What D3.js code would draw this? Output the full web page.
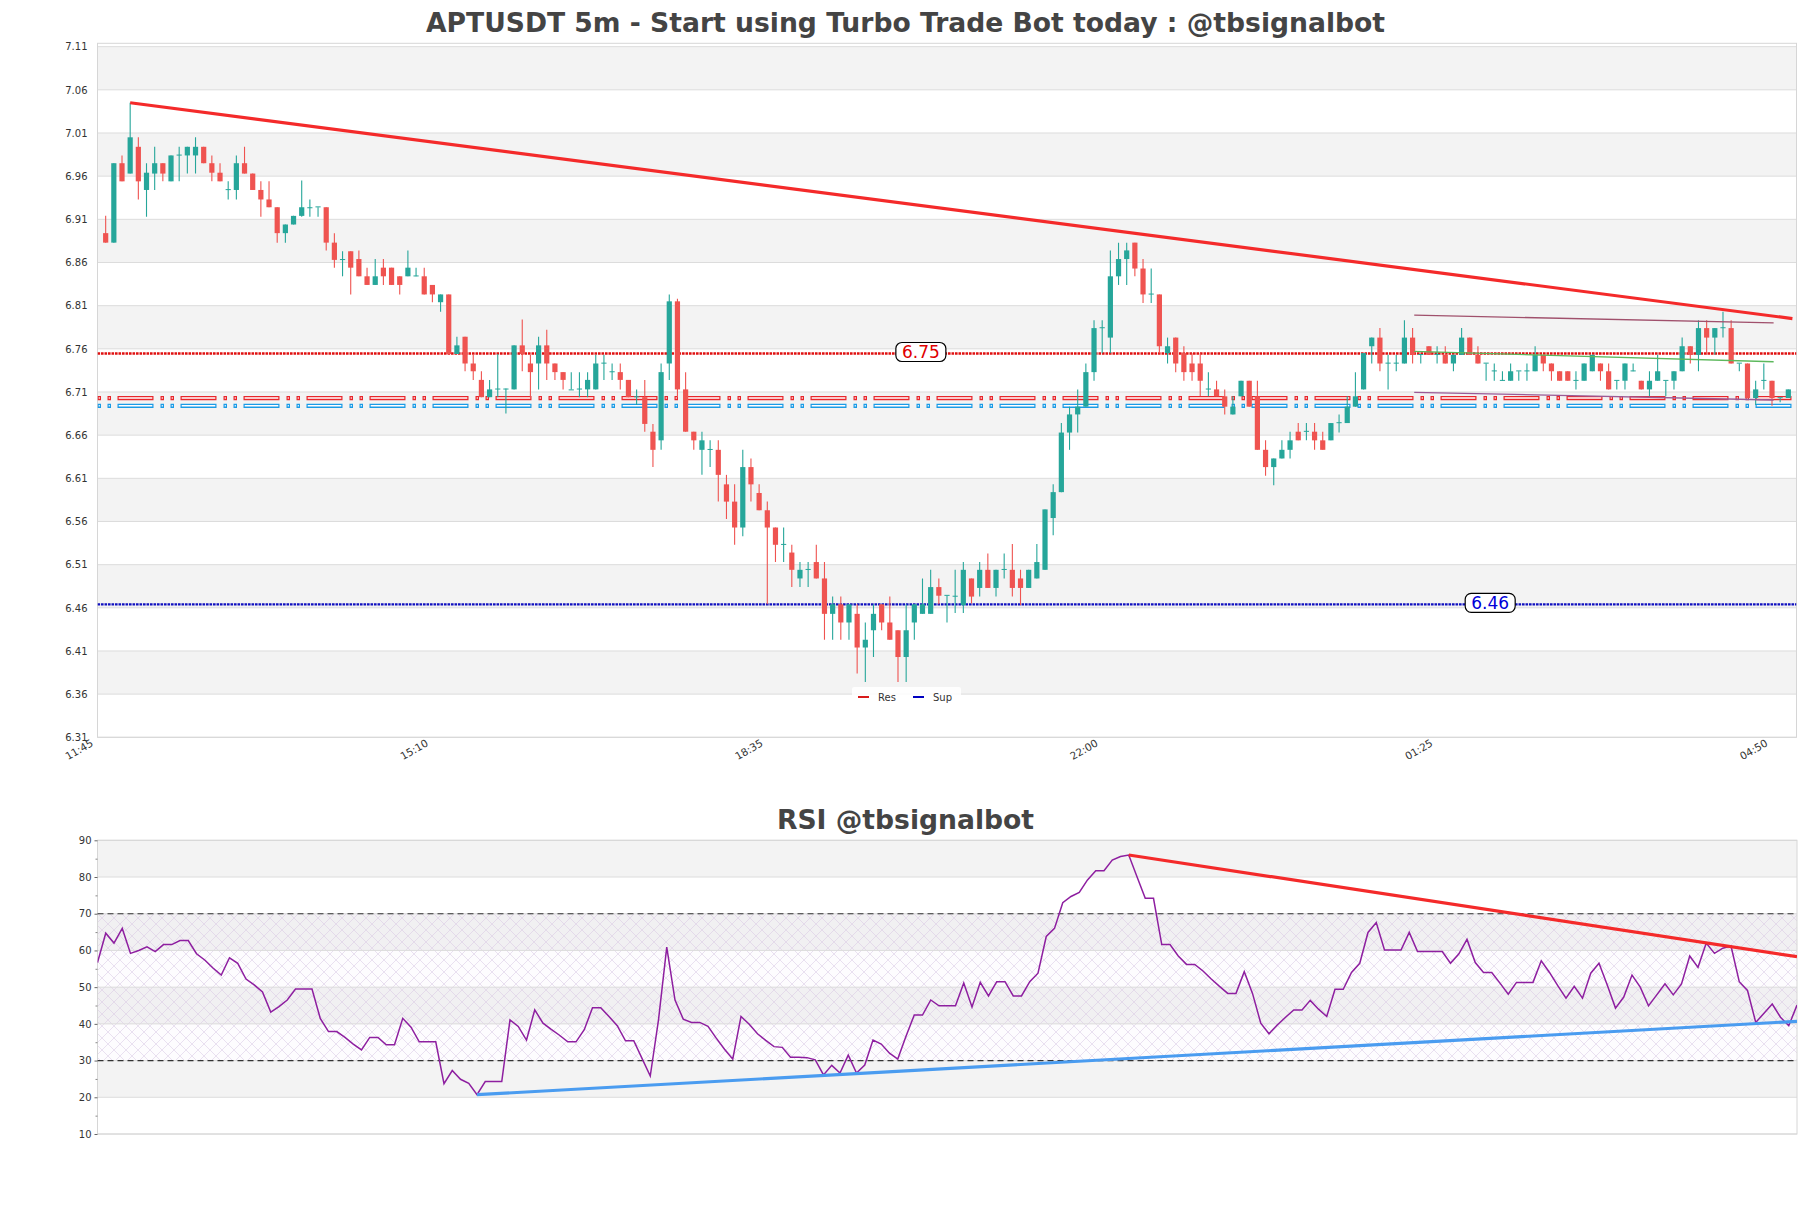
<!DOCTYPE html>
<html>
<head>
<meta charset="utf-8">
<script src="https://d3js.org/d3.v7.min.js"></script>
<style>
    body { margin: 0; background: #fff; }
    svg { display: block; font-family: 'DejaVu Sans', sans-serif; }
</style>
</head>
<body>
<svg class="chart"></svg>
<script>

// 5m candles, index 0 = 11:50
const opens = [6.894,6.883,6.975,6.963,6.994,6.944,6.963,6.975,6.954,6.984,6.984,6.984,6.994,6.975,6.964,6.944,6.944,6.975,6.963,6.944,
    6.933,6.924,6.894,6.904,6.914,6.924,6.924,6.924,6.883,6.863,6.873,6.864,6.844,6.834,6.854,6.854,6.844,6.844,6.844,6.844,
    6.834,6.814,6.823,6.754,6.774,6.743,6.724,6.704,6.713,6.713,6.713,6.764,6.743,6.743,6.764,6.743,6.733,6.713,6.713,6.713,
    6.713,6.743,6.733,6.733,6.724,6.704,6.704,6.664,6.654,6.743,6.815,6.713,6.664,6.643,6.643,6.643,6.603,6.583,6.553,6.623,
    6.593,6.573,6.553,6.533,6.524,6.494,6.504,6.513,6.494,6.453,6.464,6.443,6.453,6.414,6.434,6.464,6.443,6.434,6.403,6.443,
    6.453,6.453,6.484,6.474,6.473,6.463,6.494,6.483,6.504,6.483,6.504,6.504,6.494,6.483,6.494,6.504,6.564,6.594,6.663,6.684,
    6.693,6.733,6.784,6.773,6.844,6.864,6.883,6.853,6.823,6.823,6.755,6.773,6.755,6.743,6.743,6.713,6.713,6.705,6.684,6.705,
    6.723,6.705,6.643,6.623,6.633,6.643,6.664,6.664,6.664,6.654,6.654,6.674,6.674,6.693,6.713,6.763,6.773,6.743,6.743,6.743,
    6.773,6.753,6.763,6.753,6.753,6.743,6.753,6.773,6.753,6.743,6.734,6.723,6.723,6.734,6.734,6.734,6.753,6.743,6.734,6.734,
    6.723,6.723,6.734,6.743,6.734,6.723,6.723,6.734,6.723,6.713,6.723,6.723,6.723,6.734,6.763,6.753,6.784,6.773,6.784,6.784,
    6.743,6.743,6.703,6.723,6.723,6.703,6.703]
const highs = [6.914,6.975,6.984,7.045,7.005,6.975,6.994,6.975,6.984,6.994,6.994,7.005,6.994,6.984,6.975,6.954,6.984,6.994,6.963,6.954,
    6.954,6.924,6.904,6.914,6.955,6.933,6.924,6.924,6.894,6.873,6.873,6.874,6.854,6.864,6.864,6.854,6.844,6.874,6.854,6.854,
    6.834,6.823,6.823,6.774,6.774,6.754,6.734,6.724,6.754,6.714,6.764,6.794,6.753,6.774,6.782,6.743,6.733,6.733,6.733,6.733,
    6.753,6.753,6.743,6.743,6.724,6.713,6.724,6.673,6.743,6.823,6.818,6.733,6.664,6.664,6.654,6.654,6.614,6.603,6.643,6.633,
    6.603,6.583,6.553,6.553,6.533,6.513,6.513,6.533,6.513,6.473,6.473,6.464,6.464,6.443,6.464,6.464,6.473,6.434,6.464,6.464,
    6.494,6.504,6.494,6.474,6.504,6.513,6.494,6.513,6.523,6.504,6.523,6.534,6.504,6.504,6.534,6.574,6.603,6.674,6.693,6.713,
    6.743,6.793,6.793,6.874,6.883,6.883,6.883,6.864,6.853,6.823,6.773,6.773,6.763,6.755,6.755,6.733,6.723,6.713,6.705,6.723,
    6.723,6.723,6.654,6.633,6.654,6.664,6.674,6.674,6.674,6.664,6.674,6.684,6.705,6.733,6.755,6.773,6.784,6.753,6.753,6.793,
    6.784,6.753,6.763,6.763,6.763,6.753,6.784,6.773,6.763,6.743,6.743,6.734,6.743,6.734,6.743,6.763,6.753,6.743,6.734,6.734,
    6.734,6.743,6.753,6.743,6.743,6.723,6.743,6.743,6.723,6.734,6.753,6.723,6.734,6.773,6.763,6.793,6.793,6.784,6.803,6.793,
    6.743,6.743,6.723,6.743,6.723,6.703,6.713]
const lows = [6.883,6.883,6.954,6.963,6.933,6.913,6.944,6.954,6.954,6.954,6.963,6.963,6.975,6.954,6.954,6.933,6.933,6.963,6.944,6.913,
    6.924,6.883,6.883,6.904,6.913,6.913,6.913,6.874,6.854,6.844,6.823,6.844,6.834,6.834,6.834,6.834,6.823,6.844,6.844,6.823,
    6.814,6.803,6.754,6.754,6.734,6.724,6.704,6.704,6.704,6.685,6.713,6.734,6.704,6.713,6.724,6.724,6.713,6.713,6.704,6.704,
    6.713,6.724,6.724,6.713,6.704,6.695,6.664,6.623,6.643,6.724,6.704,6.664,6.643,6.614,6.623,6.583,6.563,6.533,6.543,6.583,
    6.573,6.464,6.513,6.513,6.484,6.484,6.484,6.494,6.423,6.423,6.423,6.423,6.384,6.374,6.403,6.434,6.423,6.374,6.374,6.423,
    6.453,6.453,6.464,6.443,6.454,6.454,6.465,6.473,6.483,6.473,6.494,6.473,6.463,6.483,6.494,6.504,6.544,6.594,6.643,6.663,
    6.693,6.723,6.755,6.755,6.834,6.834,6.844,6.813,6.813,6.755,6.743,6.733,6.723,6.723,6.705,6.705,6.705,6.684,6.684,6.705,
    6.693,6.643,6.613,6.602,6.633,6.633,6.654,6.654,6.643,6.643,6.654,6.663,6.674,6.693,6.713,6.743,6.734,6.713,6.734,6.743,
    6.743,6.743,6.753,6.743,6.743,6.734,6.753,6.753,6.743,6.723,6.723,6.723,6.723,6.723,6.723,6.734,6.734,6.723,6.723,6.723,
    6.713,6.723,6.734,6.723,6.713,6.713,6.713,6.734,6.713,6.705,6.723,6.705,6.713,6.734,6.743,6.734,6.753,6.753,6.773,6.743,
    6.734,6.703,6.695,6.713,6.694,6.698,6.703]
const closes = [6.883,6.975,6.954,7.005,6.954,6.964,6.975,6.963,6.984,6.985,6.994,6.994,6.975,6.964,6.954,6.945,6.975,6.963,6.944,6.933,
    6.924,6.894,6.904,6.914,6.924,6.924,6.925,6.883,6.863,6.864,6.854,6.844,6.834,6.844,6.844,6.834,6.834,6.854,6.845,6.823,
    6.823,6.823,6.754,6.764,6.743,6.734,6.704,6.713,6.714,6.714,6.764,6.754,6.733,6.764,6.743,6.733,6.724,6.713,6.714,6.724,
    6.743,6.744,6.734,6.724,6.704,6.705,6.673,6.643,6.733,6.815,6.713,6.664,6.654,6.654,6.644,6.614,6.583,6.553,6.623,6.603,
    6.573,6.553,6.533,6.534,6.504,6.504,6.505,6.494,6.453,6.464,6.443,6.464,6.414,6.423,6.453,6.443,6.423,6.403,6.434,6.464,
    6.464,6.484,6.474,6.475,6.474,6.504,6.473,6.504,6.483,6.504,6.505,6.483,6.483,6.504,6.513,6.574,6.594,6.663,6.684,6.693,
    6.733,6.784,6.785,6.844,6.864,6.874,6.853,6.823,6.824,6.763,6.763,6.743,6.733,6.733,6.723,6.714,6.705,6.693,6.693,6.723,
    6.693,6.643,6.623,6.633,6.643,6.654,6.654,6.665,6.654,6.643,6.674,6.675,6.693,6.705,6.755,6.773,6.743,6.744,6.744,6.773,
    6.753,6.754,6.753,6.754,6.743,6.753,6.773,6.753,6.743,6.744,6.735,6.724,6.734,6.735,6.735,6.753,6.743,6.734,6.723,6.723,
    6.724,6.743,6.753,6.734,6.713,6.724,6.743,6.735,6.713,6.723,6.734,6.724,6.734,6.763,6.753,6.784,6.773,6.784,6.785,6.743,
    6.744,6.703,6.713,6.724,6.703,6.704,6.713]

const rsi = [56.7,64.7,62.0,66.0,59.2,60.0,61.0,59.7,61.6,61.6,62.7,62.7,59.1,57.4,55.2,53.3,58.0,56.5,52.2,50.6,
    48.7,43.2,44.7,46.5,49.5,49.5,49.5,41.5,37.9,37.9,36.3,34.5,32.9,36.3,36.3,34.3,34.3,41.5,39.1,35.1,
    35.1,35.1,23.7,27.3,24.9,23.8,20.7,24.3,24.3,24.3,41.1,39.3,35.6,43.8,40.2,38.5,36.9,35.1,35.1,38.4,
    44.4,44.4,42.0,39.5,35.4,35.4,30.6,25.8,41.1,60.9,46.5,41.3,40.4,40.4,39.3,36.1,33.1,30.4,42.0,39.9,
    37.3,35.5,33.8,33.6,30.9,30.9,30.8,30.2,26.1,28.7,26.6,31.5,26.6,28.8,35.6,34.5,32.0,30.4,36.6,
    42.4,42.4,46.5,44.9,44.9,44.9,51.1,44.6,51.3,47.6,51.5,51.5,47.6,47.6,51.5,53.8,63.8,66.0,73.0,74.7,
    75.8,79.2,81.7,81.7,84.6,85.6,86.0,80.1,74.2,74.2,61.6,61.6,58.5,56.2,56.2,54.4,52.2,50.2,48.3,48.3,
    54.2,48.3,40.2,37.3,39.7,41.8,43.8,43.8,46.4,44.0,42.0,49.4,49.4,54.0,56.5,64.9,67.6,60.1,60.1,60.1,
    64.9,59.7,59.7,59.7,59.7,56.5,59.0,63.0,56.7,54.0,54.0,51.1,48.1,51.3,51.3,51.3,57.2,54.0,50.4,47.0,
    50.2,47.0,53.8,56.5,50.6,44.3,47.3,53.3,50.0,44.9,47.9,50.9,47.9,50.9,58.5,55.4,62.0,59.2,60.6,61.2,
    51.5,49.1,40.4,42.9,45.4,41.8,39.5,45.1]

const xTickIdx = [-1, 40, 81, 122, 163, 204]
const xTickLabels = ['11:45', '15:10', '18:35', '22:00', '01:25', '04:50']
const priceTicks = [6.31, 6.36, 6.41, 6.46, 6.51, 6.56, 6.61, 6.66, 6.71, 6.76, 6.81, 6.86, 6.91, 6.96, 7.01, 7.06, 7.11]
const rsiTicks = [10, 20, 30, 40, 50, 60, 70, 80, 90]

const resLevel = 6.7546
const supLevel = 6.464
const levelLabelIdx = [99.8, 169.5]
const zoneLevels = [6.703, 6.694]
const resTrend = [[3, 7.045], [206.5, 6.795]]
const channelTop = [[160.2, 6.799], [204.2, 6.790]]
const channelMid = [[160.2, 6.757], [204.2, 6.745]]
const channelLow = [[160.2, 6.7096], [204.2, 6.7007]]
const rsiResEnd = 58.3
const rsiSupEnd = 40.7
const legendItems = ['Res', 'Sup']

const width = 1811
const height = 1208

const svg = d3.select('.chart')
    .attr('width', width)
    .attr('height', height)

const m = { left: 97.5, right: 1796.5, top: 43.3, bottom: 737.3 }
const r = { left: 97.5, right: 1797, top: 840.3, bottom: 1134 }

const x = d3.scaleLinear().domain([-1, 207]).range([m.left, m.right])
const y = d3.scaleLinear().domain([6.31, 7.1139]).range([m.bottom, m.top])
const rx = d3.scaleLinear().domain([0, rsi.length - 1]).range([r.left, r.right])
const ry = d3.scaleLinear().domain([10, 90]).range([r.bottom, r.top])

const defs = svg.append('defs')
defs.append('clipPath').attr('id', 'clipMain')
    .append('rect')
    .attr('x', m.left).attr('y', m.top)
    .attr('width', m.right - m.left).attr('height', m.bottom - m.top)
defs.append('clipPath').attr('id', 'clipRsi')
    .append('rect')
    .attr('x', r.left).attr('y', r.top)
    .attr('width', r.right - r.left).attr('height', r.bottom - r.top)

const hatch = defs.append('pattern')
    .attr('id', 'hatch')
    .attr('patternUnits', 'userSpaceOnUse')
    .attr('width', 12).attr('height', 12)
hatch.append('path')
    .attr('d', 'M0,0 L12,12 M0,12 L12,0')
    .attr('stroke', '#d9c8e4')
    .attr('stroke-width', 0.55)
    .attr('fill', 'none')

// ---------- main panel ----------

svg.append('text')
    .attr('x', width / 2)
    .attr('y', 32)
    .attr('text-anchor', 'middle')
    .attr('font-size', 26.6)
    .attr('font-weight', 'bold')
    .attr('fill', '#444')
    .text('APTUSDT 5m - Start using Turbo Trade Bot today : @tbsignalbot')

const bands = d3.pairs(priceTicks.slice().reverse())

svg.append('g')
    .selectAll('rect')
    .data(bands)
    .enter()
    .append('rect')
    .attr('x', m.left)
    .attr('width', m.right - m.left)
    .attr('y', d => y(d[0]))
    .attr('height', d => y(d[1]) - y(d[0]))
    .attr('fill', (d, i) => i % 2 === 0 ? '#f3f3f3' : '#fff')

svg.append('g')
    .selectAll('line')
    .data(priceTicks)
    .enter()
    .append('line')
    .attr('x1', m.left).attr('x2', m.right)
    .attr('y1', d => y(d)).attr('y2', d => y(d))
    .attr('stroke', '#dcdcdc')
    .attr('stroke-width', 1)

svg.append('rect')
    .attr('x', m.left).attr('y', m.top)
    .attr('width', m.right - m.left).attr('height', m.bottom - m.top)
    .attr('fill', 'none')
    .attr('stroke', '#d6d6d6')

const yAxis = svg.append('g')
    .attr('transform', `translate(${m.left},0)`)
    .call(d3.axisLeft(y).tickValues(priceTicks).tickFormat(d3.format('.2f')).tickSize(0).tickPadding(10))
yAxis.select('.domain').remove()
yAxis.selectAll('text').attr('font-size', 10).attr('fill', '#333').attr('font-family', 'DejaVu Sans')

const xAxis = svg.append('g')
    .attr('transform', `translate(0,${m.bottom})`)
    .call(d3.axisBottom(x).tickValues(xTickIdx).tickFormat((d, i) => xTickLabels[i]).tickSize(0))
xAxis.select('.domain').remove()
xAxis.selectAll('text')
    .attr('font-size', 10.4)
    .attr('fill', '#333')
    .attr('font-family', 'DejaVu Sans')
    .attr('text-anchor', 'end')
    .attr('dy', 0)
    .attr('y', 0)
    .attr('transform', 'translate(-4,8) rotate(-30)')

const plot = svg.append('g').attr('clip-path', 'url(#clipMain)')

// dashed zone lines (outlined dashes)
const zoneColors = ['#e8262b', '#1a9be6']
zoneLevels.forEach((lv, k) => {
    plot.append('line')
        .attr('x1', m.left).attr('x2', m.right)
        .attr('y1', y(lv)).attr('y2', y(lv))
        .attr('stroke', zoneColors[k])
        .attr('stroke-width', 4.2)
        .attr('stroke-dasharray', '3.5,6.5,3.5,6.5,36,7')
    plot.append('line')
        .attr('x1', m.left).attr('x2', m.right)
        .attr('y1', y(lv)).attr('y2', y(lv))
        .attr('stroke', '#fff')
        .attr('stroke-width', 1.4)
        .attr('stroke-dasharray', '1.1,8.9,1.1,8.9,33.6,9.4')
        .attr('stroke-dashoffset', -1.2)
})

const levelColors = ['#e01010', '#1010c0']
;[resLevel, supLevel].forEach((lv, k) => {
    plot.append('line')
        .attr('x1', m.left).attr('x2', m.right)
        .attr('y1', y(lv)).attr('y2', y(lv))
        .attr('stroke', levelColors[k])
        .attr('stroke-width', 2.4)
        .attr('stroke-dasharray', '2.6,0.9')
})

const wick = plot.append('g')
    .selectAll('line')
    .data(opens)
    .enter()
    .append('line')
    .attr('x1', (d, i) => x(i)).attr('x2', (d, i) => x(i))
    .attr('y1', (d, i) => y(highs[i]))
    .attr('y2', (d, i) => y(lows[i]))
    .attr('stroke', (d, i) => closes[i] >= d ? '#26a69a' : '#ef5350')
    .attr('stroke-width', 1.1)

const bw = 5.2
const body = plot.append('g')
    .selectAll('rect')
    .data(opens)
    .enter()
    .append('rect')
    .attr('x', (d, i) => x(i) - bw / 2)
    .attr('width', bw)
    .attr('y', (d, i) => y(Math.max(d, closes[i])))
    .attr('height', (d, i) => Math.max(1, Math.abs(y(d) - y(closes[i]))))
    .attr('fill', (d, i) => closes[i] >= d ? '#26a69a' : '#ef5350')

const line = d3.line().x(d => x(d[0])).y(d => y(d[1]))

plot.append('path')
    .attr('d', line(channelTop))
    .attr('stroke', '#a0506c').attr('stroke-width', 1.3).attr('fill', 'none')
plot.append('path')
    .attr('d', line(channelMid))
    .attr('stroke', '#5cb85c').attr('stroke-width', 1.3).attr('fill', 'none')
plot.append('path')
    .attr('d', line(channelLow))
    .attr('stroke', '#9a5a96').attr('stroke-width', 1.3).attr('fill', 'none')

plot.append('path')
    .attr('d', line(resTrend))
    .attr('stroke', '#f42a2a').attr('stroke-width', 3.2).attr('fill', 'none')

// level labels
;[resLevel, supLevel].forEach((lv, k) => {
    const g = svg.append('g')
        .attr('transform', `translate(${x(levelLabelIdx[k])},${y(lv) - 1.5})`)
    g.append('rect')
        .attr('x', -25).attr('y', -9.5)
        .attr('width', 50).attr('height', 19)
        .attr('rx', 6)
        .attr('fill', '#fff')
        .attr('stroke', '#000')
        .attr('stroke-width', 1.2)
    g.append('text')
        .attr('text-anchor', 'middle')
        .attr('dy', '0.36em')
        .attr('font-size', 17)
        .attr('fill', k === 0 ? '#e00000' : '#0000d8')
        .text(d3.format('.2f')(lv))
})

// legend
const lg = svg.append('g').attr('transform', 'translate(852,687)')
lg.append('rect')
    .attr('width', 109).attr('height', 19)
    .attr('fill', '#fff').attr('fill-opacity', 0.85)
    .attr('rx', 2)
const legendColors = ['#d81b1b', '#0000c0']
legendItems.forEach((t, i) => {
    const gx = 6 + i * 55
    lg.append('line')
        .attr('x1', gx).attr('x2', gx + 11)
        .attr('y1', 10).attr('y2', 10)
        .attr('stroke', legendColors[i]).attr('stroke-width', 2)
    lg.append('text')
        .attr('x', gx + 20).attr('y', 10)
        .attr('dy', '0.35em')
        .attr('font-size', 10)
        .attr('fill', '#333')
        .text(t)
})

// ---------- RSI panel ----------

svg.append('text')
    .attr('x', width / 2)
    .attr('y', 829)
    .attr('text-anchor', 'middle')
    .attr('font-size', 26.6)
    .attr('font-weight', 'bold')
    .attr('fill', '#444')
    .text('RSI @tbsignalbot')

const rBands = d3.pairs(rsiTicks.slice().reverse())
svg.append('g')
    .selectAll('rect')
    .data(rBands)
    .enter()
    .append('rect')
    .attr('x', r.left)
    .attr('width', r.right - r.left)
    .attr('y', d => ry(d[0]))
    .attr('height', d => ry(d[1]) - ry(d[0]))
    .attr('fill', (d, i) => i % 2 === 0 ? '#f3f3f3' : '#fff')

svg.append('rect')
    .attr('x', r.left).attr('width', r.right - r.left)
    .attr('y', ry(70)).attr('height', ry(30) - ry(70))
    .attr('fill', '#9b59b6').attr('fill-opacity', 0.02)
svg.append('rect')
    .attr('x', r.left).attr('width', r.right - r.left)
    .attr('y', ry(70)).attr('height', ry(30) - ry(70))
    .attr('fill', 'url(#hatch)')

svg.append('g')
    .selectAll('line')
    .data(rsiTicks)
    .enter()
    .append('line')
    .attr('x1', r.left).attr('x2', r.right)
    .attr('y1', d => ry(d)).attr('y2', d => ry(d))
    .attr('stroke', '#dcdcdc')

svg.append('rect')
    .attr('x', r.left).attr('y', r.top)
    .attr('width', r.right - r.left).attr('height', r.bottom - r.top)
    .attr('fill', 'none')
    .attr('stroke', '#d6d6d6')

;[70, 30].forEach(v => {
    svg.append('line')
        .attr('x1', r.left).attr('x2', r.right)
        .attr('y1', ry(v)).attr('y2', ry(v))
        .attr('stroke', '#333')
        .attr('stroke-width', 1.1)
        .attr('stroke-dasharray', '6,4')
})

const rAxis = svg.append('g')
    .attr('transform', `translate(${r.left},0)`)
    .call(d3.axisLeft(ry).tickValues(rsiTicks).tickSize(3).tickPadding(3))
rAxis.select('.domain').remove()
rAxis.selectAll('line').attr('stroke', '#666')
rAxis.selectAll('text').attr('font-size', 10).attr('fill', '#333').attr('font-family', 'DejaVu Sans')

svg.append('g')
    .attr('transform', `translate(${r.left},0)`)
    .call(d3.axisLeft(ry).tickValues(d3.range(15, 90, 10)).tickSize(2).tickFormat(''))
    .call(g => g.select('.domain').remove())
    .selectAll('line').attr('stroke', '#888')

const rPlot = svg.append('g').attr('clip-path', 'url(#clipRsi)')

rPlot.append('path')
    .datum(rsi)
    .attr('d', d3.line().x((d, i) => rx(i)).y(d => ry(d)))
    .attr('fill', 'none')
    .attr('stroke', '#8e1fa0')
    .attr('stroke-width', 1.5)

const peak = d3.maxIndex(rsi)
const low = d3.minIndex(rsi)
const last = rsi.length - 1
const rline = d3.line().x(d => rx(d[0])).y(d => ry(d[1]))

rPlot.append('path')
    .attr('d', rline([[peak, rsi[peak]], [last, rsiResEnd]]))
    .attr('stroke', '#f42a2a').attr('stroke-width', 3.2).attr('fill', 'none')
rPlot.append('path')
    .attr('d', rline([[low, rsi[low]], [last, rsiSupEnd]]))
    .attr('stroke', '#4a9cf0').attr('stroke-width', 3.2).attr('fill', 'none')

</script>
</body>
</html>
